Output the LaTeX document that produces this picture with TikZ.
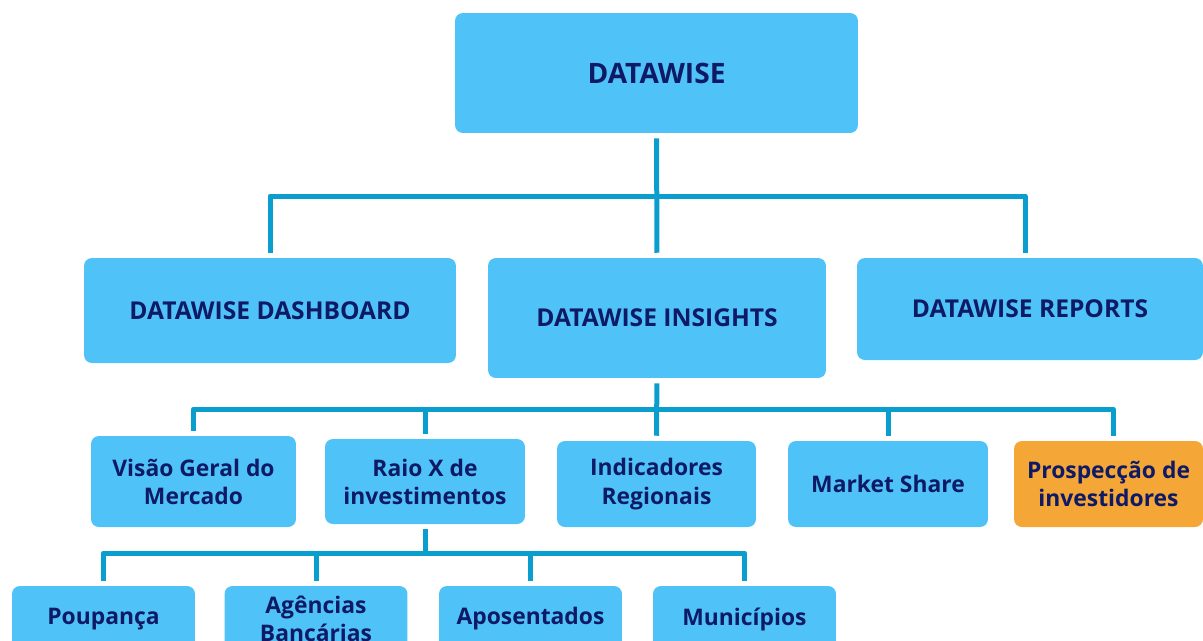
\documentclass[tikz,border=0pt]{standalone}
\usepackage{fontspec}
\setmainfont{Open Sans}
\usetikzlibrary{positioning}

\definecolor{boxblue}{HTML}{4FC3F7}
\definecolor{linkblue}{HTML}{0A9ECE}
\definecolor{navy}{HTML}{0E1A66}
\definecolor{orangebox}{HTML}{F4A636}

\tikzset{
      box/.style={rounded corners=4.5pt, fill=boxblue, text=navy, align=center,
            font=\fontsize{13}{16}\selectfont\bfseries, inner sep=0pt, outer sep=3pt},
      bigbox/.style={box, font=\fontsize{14}{17}\selectfont\bfseries},
      topbox/.style={box, font=\fontsize{16}{19}\selectfont\bfseries},
      hibox/.style={box, fill=orangebox},
      link/.style={draw=linkblue, line width=0.1cm, line join=round},
}

\begin{document}
\begin{tikzpicture}[x=0.02cm, y=-0.02cm]
        \useasboundingbox (0,0) rectangle (1203,640);
        \clip (0,0) rectangle (1203,640);

        % Top
        \node[topbox, minimum width=8.06cm, minimum height=2.4cm] (top) at (656.5,73) {DATAWISE};

        % Products
        \node[bigbox, minimum width=7.44cm, minimum height=2.1cm] (dash) at (270,310.5) {DATAWISE DASHBOARD};
        \node[bigbox, minimum width=6.76cm, minimum height=2.4cm] (ins) at (657,318) {DATAWISE INSIGHTS};
        \node[bigbox, minimum width=6.92cm, minimum height=2.04cm] (rep) at (1030,309) {DATAWISE REPORTS};

        % Insights
        \node[box, minimum width=4.1cm, minimum height=1.82cm] (visao) at (193.5,481.5) {Visão Geral do\\Mercado};
        \node[box, minimum width=4cm, minimum height=1.7cm] (raio) at (425,481.5) {Raio X de\\investimentos};
        \node[box, minimum width=3.98cm, minimum height=1.72cm] (ind) at (656.5,484) {Indicadores\\Regionais};
        \node[box, minimum width=4cm, minimum height=1.72cm] (mkt) at (888,484) {Market Share};
        \node[hibox, minimum width=3.78cm, minimum height=1.72cm] (prosp) at (1108.5,484) {Prospecção de\\investidores};

        % Raio X
        \node[box, minimum width=3.66cm, minimum height=1.32cm] (poup) at (103.5,619) {Poupança};
        \node[box, minimum width=3.66cm, minimum height=1.32cm] (agen) at (316,619) {Agências\\Bancárias};
        \node[box, minimum width=3.66cm, minimum height=1.32cm] (apos) at (530.5,619) {Aposentados};
        \node[box, minimum width=3.66cm, minimum height=1.32cm] (muni) at (744.5,619) {Municípios};

        % Connectors
        \coordinate (j1) at (656,196);
        \coordinate (j2) at (656,409);
        \coordinate (j3) at (425,553);

        \draw[link] (top) -- (ins);
        \draw[link] (dash) |- (j1) -| ([xshift=-0.1cm]rep.north);

        \draw[link] (ins) -- (ind);
        \draw[link] (visao) |- (j2) -| ([xshift=0.09cm]prosp.north);
        \foreach \n in {raio,mkt}
            \draw[link] (\n) |- (j2);

        \draw[link] (raio) -- (j3);
        \draw[link] (poup) |- (j3) -| (muni);
        \foreach \n in {agen,apos}
            \draw[link] (\n) |- (j3);

    \end{tikzpicture}
\end{document}
